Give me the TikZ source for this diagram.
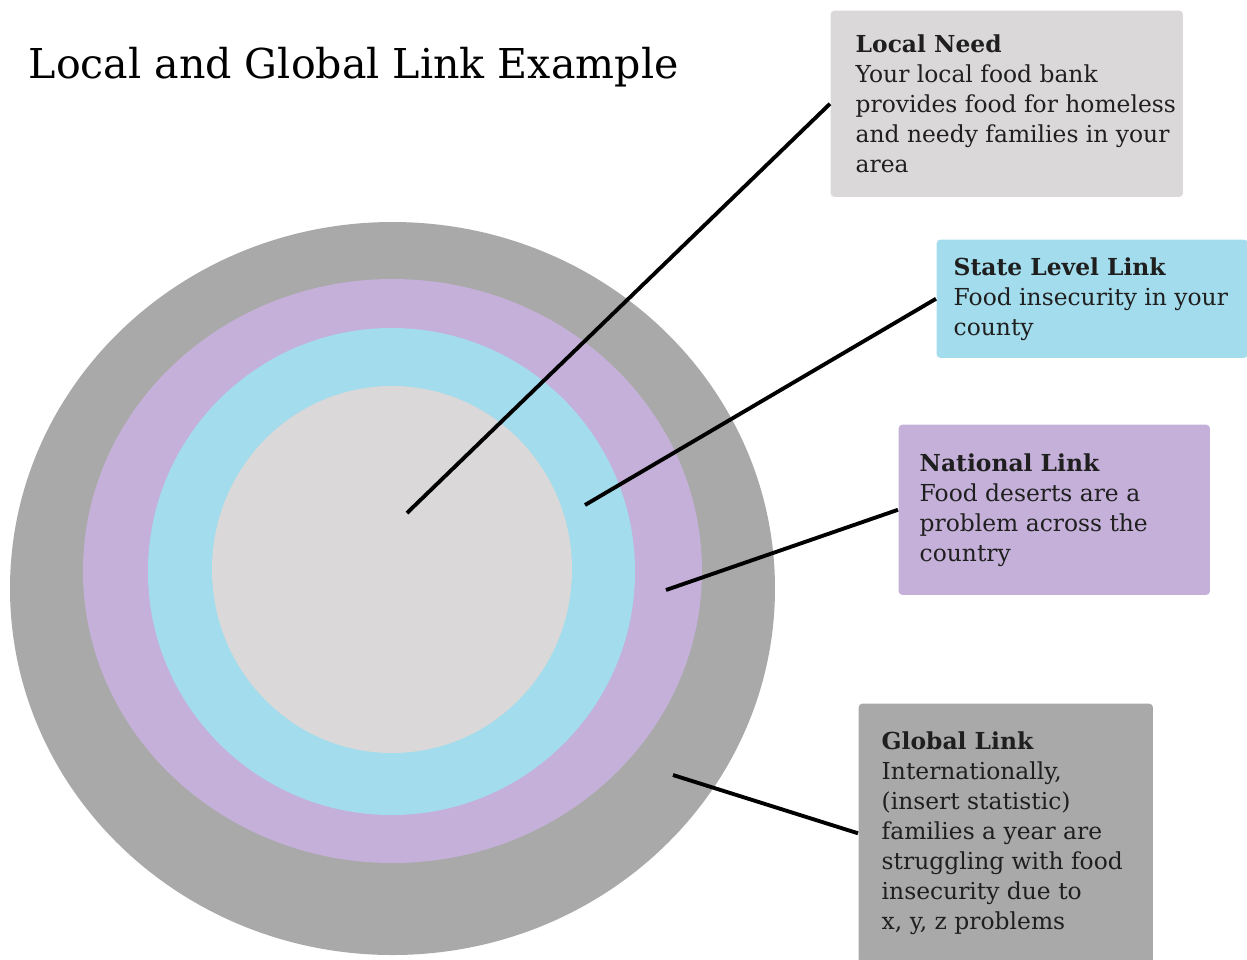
\documentclass[tikz,border=0pt]{standalone}
\usepackage{fontspec}
\setmainfont{DejaVu Serif}
\usetikzlibrary{positioning}

\definecolor{ringgray}{HTML}{A9A9A9}
\definecolor{ringpurple}{HTML}{C4B0D8}
\definecolor{ringcyan}{HTML}{A3DCEC}
\definecolor{ringlight}{HTML}{DAD8D9}

\tikzset{
    infobox/.style={rectangle, rounded corners=1pt, anchor=north west, inner sep=0pt},
    infotext/.style={inner sep=0pt, align=left, text=black!88,
        font=\fontsize{6.65pt}{8.54pt}\selectfont},
    link/.style={black, line width=1.1pt}
}

\begin{document}
\begin{tikzpicture}[x=0.01cm, y=-0.01cm]

    \useasboundingbox (0,0) rectangle (1247,959);

    % Title
    \node[anchor=base west, inner sep=0pt, font=\fontsize{11.7pt}{14pt}\selectfont] (title) at (28,78) {Local and Global Link Example};

    % Rings
    \fill[ringgray] (392.5,588.5) ellipse (382.5 and 366.5);
    \fill[ringpurple] (392.5,571) ellipse (309.5 and 292);
    \fill[ringcyan] (391.5,571.5) ellipse (243.5 and 243.5);
    \fill[ringlight] (392,569.5) ellipse (180 and 183.5);

    % Boxes
    \node[infobox, fill=ringlight, minimum width=3.52cm, minimum height=1.86cm] (localneed) at (830,10) {};
    \node[infobox, fill=ringcyan, minimum width=3.11cm, minimum height=1.18cm] (statelink) at (936,239) {};
    \node[infobox, fill=ringpurple, minimum width=3.11cm, minimum height=1.70cm] (nationallink) at (898,424) {};
    \node[infobox, fill=ringgray, minimum width=2.94cm, minimum height=2.59cm] (globallink) at (858,703) {};

    % Box texts
    \node[infotext, right=0.25cm of localneed.west] (localtext) {\textbf{Local Need}\\Your local food bank\\provides food for homeless\\and needy families in your\\area};
    \node[infotext, right=0.17cm of statelink.west] (statetext) {\textbf{State Level Link}\\Food insecurity in your\\county};
    \node[infotext, right=0.21cm of nationallink.west] (nationaltext) {\textbf{National Link}\\Food deserts are a\\problem across the\\country};
    \node[infotext, right=0.23cm of globallink.west] (globaltext) {\textbf{Global Link}\\Internationally,\\(insert statistic)\\families a year are\\struggling with food\\insecurity due to\\x, y, z problems};

    % Links
    \coordinate (localpt) at (407,513);
    \coordinate (statept) at (585,505);
    \coordinate (nationalpt) at (666,590);
    \coordinate (globalpt) at (673,775);
    \draw[link] (localpt) -- (localneed.west);
    \draw[link] (statept) -- (statelink.west);
    \draw[link] (nationalpt) -- (nationallink.west);
    \draw[link] (globalpt) -- (globallink.west);

\end{tikzpicture}
\end{document}
